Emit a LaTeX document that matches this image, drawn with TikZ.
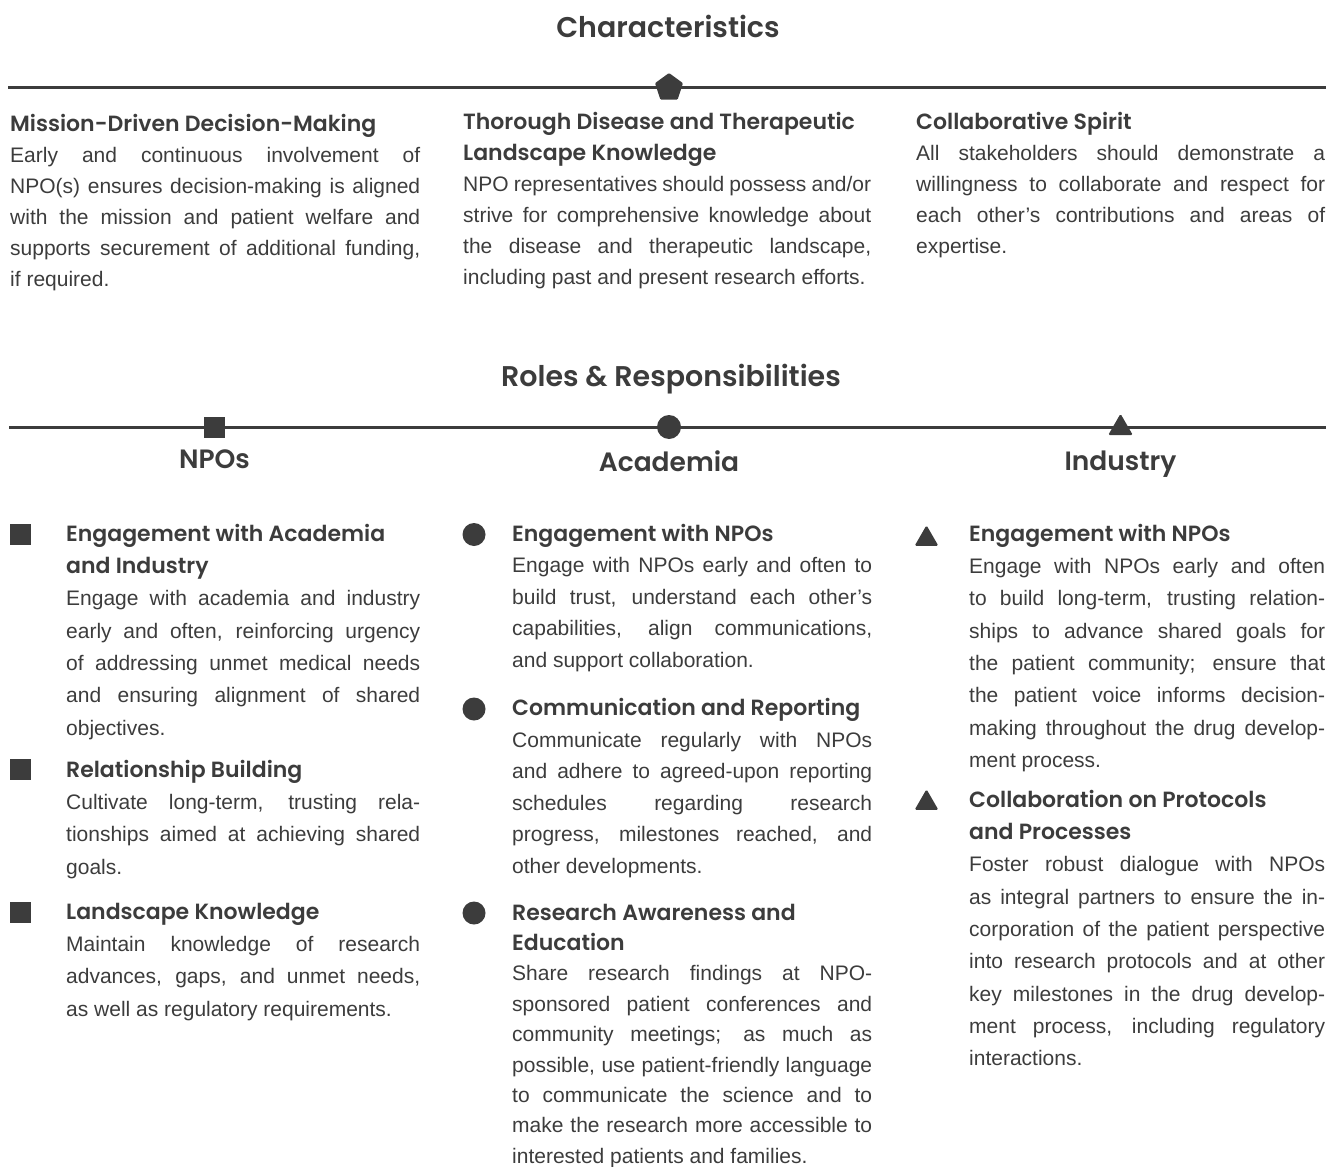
\documentclass[tikz,border=0pt]{standalone}
\usepackage{fontspec}
\setmainfont{Liberation Sans}
\newfontfamily\headfont{Poppins}[UprightFont={* Medium}, BoldFont={* SemiBold}]
\usetikzlibrary{shapes.geometric}
\definecolor{ink}{RGB}{60,60,60}
\setlength\parindent{0pt}
\tolerance=10000 \hbadness=10000 \hyphenpenalty=10000 \exhyphenpenalty=10000
\newcommand{\hd}{\headfont\bfseries\fontsize{22}{26}\selectfont}

\begin{document}
\begin{tikzpicture}[x=1pt, y=-1pt,
    rule/.style={draw=ink, line width=3},
    title/.style={font=\headfont\bfseries\fontsize{28.5}{34}\selectfont, text=ink, anchor=base, inner sep=0},
    colhead/.style={font=\headfont\bfseries\fontsize{26.5}{30}\selectfont, text=ink, anchor=base, inner sep=0},
    entry/.style={anchor=north west, inner sep=0, text=ink, align=justify},
    sqmark/.style={rectangle, fill=ink, minimum size=21, inner sep=0},
    dotmark/.style={circle, fill=ink, minimum size=23, inner sep=0},
    trimark/.style={regular polygon, regular polygon sides=3, fill=ink, minimum size=27.5, inner sep=0, rounded corners=1.5},
    pentmark/.style={regular polygon, regular polygon sides=5, fill=ink, minimum size=29.4, inner sep=0, rounded corners=1}]
\useasboundingbox (0,0) rectangle (1329,1166);

% characteristics
\node (chartitle)[title] at (668, 38) {Characteristics};
\coordinate (r1a) at (8, 87.5);
\coordinate (r1b) at (1326, 87.5);
\draw [rule] (r1a) -- (r1b);
\node (pent)[pentmark] at (669, 87.7) {};

\node (mission)[entry, text width=410, font=\fontsize{21}{31}\selectfont] at (10, 109.3) {\noindent\strut{\hd Mission-Driven Decision-Making}\\
Early and continuous involvement of\linebreak NPO(s) ensures decision-making is aligned\linebreak with the mission and patient welfare and\linebreak supports securement of additional funding,\linebreak if required.};
\node (thorough)[entry, text width=408, font=\fontsize{21}{31}\selectfont] at (463, 107.3) {\noindent\strut{\hd Thorough Disease and Therapeutic\\ Landscape Knowledge}\\
NPO representatives should possess and/or\linebreak strive for comprehensive knowledge about\linebreak the disease and therapeutic landscape,\linebreak including past and present research efforts.};
\node (spirit)[entry, text width=409, font=\fontsize{21}{31}\selectfont] at (916, 107.3) {\noindent\strut{\hd Collaborative Spirit}\\
All stakeholders should demonstrate a\linebreak willingness to collaborate and respect for\linebreak each other’s contributions and areas of\linebreak expertise.};

% roles and responsibilities
\node (roletitle)[title] at (671, 386) {Roles \& Responsibilities};
\coordinate (r2a) at (9, 427.5);
\coordinate (r2b) at (1326, 427.5);
\draw [rule] (r2a) -- (r2b);
\node (sqtop)[sqmark] at (214.5, 427.5) {};
\node (dottop)[dotmark, minimum size=24] at (669, 427) {};
\node (tritop)[trimark, minimum size=28.5] at (1120.5, 428) {};

\node (npos)[colhead] at (214.5, 468) {NPOs};
\node (acad)[colhead] at (669, 471) {Academia};
\node (indu)[colhead] at (1120.5, 470) {Industry};

% NPO column
\node (sq1)[sqmark] at (20.5, 534) {};
\node (sq2)[sqmark] at (20.5, 769) {};
\node (sq3)[sqmark] at (20.5, 912) {};
\node (npo1)[entry, text width=354, font=\fontsize{21}{32.3}\selectfont] at (66, 518.4) {\noindent\strut{\hd Engagement with Academia\\ and Industry}\\
Engage with academia and industry\linebreak early and often, reinforcing urgency\linebreak of addressing unmet medical needs\linebreak and ensuring alignment of shared\linebreak objectives.};
\node (npo2)[entry, text width=354, font=\fontsize{21}{32.3}\selectfont] at (66, 754.4) {\noindent\strut{\hd Relationship Building}\\
Cultivate long-term, trusting rela-\linebreak tionships aimed at achieving shared\linebreak goals.};
\node (npo3)[entry, text width=354, font=\fontsize{21}{32.3}\selectfont] at (66, 896.4) {\noindent\strut{\hd Landscape Knowledge}\\
Maintain knowledge of research\linebreak advances, gaps, and unmet needs,\linebreak as well as regulatory requirements.};

% academia column
\node (dot1)[dotmark] at (474, 534.5) {};
\node (dot2)[dotmark] at (474, 709) {};
\node (dot3)[dotmark] at (474, 913) {};
\node (aca1)[entry, text width=360, font=\fontsize{21}{31.5}\selectfont] at (512, 519) {\noindent\strut{\hd Engagement with NPOs}\\
Engage with NPOs early and often to\linebreak build trust, understand each other’s\linebreak capabilities, align communications,\linebreak and support collaboration.};
\node (aca2)[entry, text width=360, font=\fontsize{21}{31.5}\selectfont] at (512, 693.5) {\noindent\strut{\hd Communication and Reporting}\\
Communicate regularly with NPOs\linebreak and adhere to agreed-upon reporting\linebreak schedules regarding research\linebreak progress, milestones reached, and\linebreak other developments.};
\node (aca3)[entry, text width=360, font=\fontsize{21}{30.4}\selectfont] at (512, 898.7) {\noindent\strut{\hd Research Awareness and\\ Education}\\
Share research findings at NPO-\linebreak sponsored patient conferences and\linebreak community meetings; as much as\linebreak possible, use patient-friendly language\linebreak to communicate the science and to\linebreak make the research more accessible to\linebreak interested patients and families.};

% industry column
\node (tri1)[trimark] at (926.5, 539) {};
\node (tri2)[trimark] at (926.5, 803) {};
\node (ind1)[entry, text width=356, font=\fontsize{21}{32.3}\selectfont] at (969, 518.4) {\noindent\strut{\hd Engagement with NPOs}\\
Engage with NPOs early and often\linebreak to build long-term, trusting relation-\linebreak ships to advance shared goals for\linebreak the patient community; ensure that\linebreak the patient voice informs decision-\linebreak making throughout the drug develop-\linebreak ment process.};
\node (ind2)[entry, text width=356, font=\fontsize{21}{32.3}\selectfont] at (969, 784.4) {\noindent\strut{\hd Collaboration on Protocols\\ and Processes}\\
Foster robust dialogue with NPOs\linebreak as integral partners to ensure the in-\linebreak corporation of the patient perspective\linebreak into research protocols and at other\linebreak key milestones in the drug develop-\linebreak ment process, including regulatory\linebreak interactions.};
\end{tikzpicture}
\end{document}
